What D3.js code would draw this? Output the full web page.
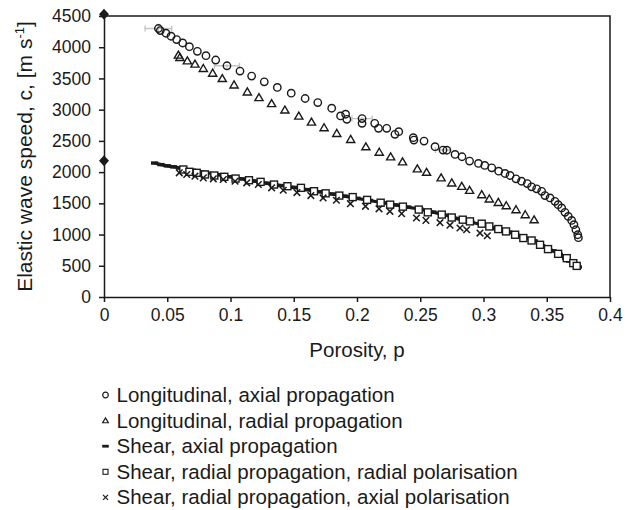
<!DOCTYPE html>
<html>
<head>
<meta charset="utf-8">
<script src="https://cdn.jsdelivr.net/npm/d3@7"></script>
<style>
  body { margin: 0; background: #fff; }
  text { font-family: "Liberation Sans", Arial, Helvetica, sans-serif; fill: #1a1a1a; }
  .axis path, .axis line { stroke: #1a1a1a; stroke-width: 1.5; }
</style>
</head>
<body>
<div id="chart"></div>
<script>
// values: [porosity, speed]
const longitudinalAxial = [
  [0.043, 4300], [0.0445, 4266], [0.049, 4224], [0.053, 4176], [0.0574, 4122], [0.0622, 4068],
  [0.0675, 4009], [0.0738, 3935], [0.0806, 3864], [0.0883, 3795], [0.0972, 3703], [0.1075, 3618],
  [0.1167, 3538], [0.1267, 3446], [0.137, 3356], [0.148, 3264], [0.159, 3179], [0.169, 3114],
  [0.18, 3023], [0.187, 2899], [0.191, 2927], [0.192, 2846], [0.204, 2857], [0.204, 2782],
  [0.214, 2782], [0.217, 2701], [0.2235, 2701], [0.23, 2605], [0.233, 2648], [0.2445, 2552],
  [0.245, 2513], [0.253, 2497], [0.2617, 2407], [0.268, 2353], [0.271, 2350], [0.2775, 2283],
  [0.283, 2246], [0.289, 2176], [0.296, 2139], [0.301, 2107], [0.3065, 2069], [0.312, 2015],
  [0.317, 1978], [0.321, 1946], [0.3257, 1892], [0.33, 1854], [0.3346, 1817], [0.338, 1764],
  [0.342, 1732], [0.346, 1693], [0.3486, 1624], [0.3526, 1587], [0.3565, 1532], [0.359, 1479],
  [0.3618, 1426], [0.3644, 1356], [0.367, 1291], [0.3697, 1227], [0.3715, 1158], [0.373, 1077],
  [0.3745, 997], [0.375, 950]
]

const longitudinalRadial = [
  [0.0588, 3875], [0.06, 3838], [0.0659, 3784], [0.0719, 3731], [0.0785, 3661], [0.0859, 3586],
  [0.0935, 3500], [0.1028, 3398], [0.1133, 3285], [0.1225, 3195], [0.1325, 3099], [0.143, 2996],
  [0.154, 2899], [0.164, 2803], [0.174, 2712], [0.184, 2621], [0.195, 2525], [0.207, 2407],
  [0.2176, 2320], [0.2266, 2246], [0.236, 2166], [0.2477, 2053], [0.255, 1999], [0.2665, 1909],
  [0.2749, 1828], [0.2828, 1774], [0.289, 1709], [0.2986, 1640], [0.3046, 1571], [0.3117, 1516],
  [0.318, 1463], [0.3257, 1399], [0.333, 1319], [0.34, 1238]
]

const shearAxial = [
  [0.04, 2145], [0.045, 2120], [0.05, 2100], [0.055, 2085], [0.06, 2065], [0.07, 2030],
  [0.08, 1995], [0.09, 1960], [0.1, 1925], [0.11, 1890], [0.12, 1855], [0.13, 1820],
  [0.14, 1785], [0.15, 1755], [0.16, 1720], [0.17, 1685], [0.18, 1650], [0.19, 1615],
  [0.2, 1580], [0.21, 1545], [0.22, 1510], [0.23, 1475], [0.24, 1440], [0.25, 1405],
  [0.26, 1360], [0.27, 1310], [0.28, 1255], [0.29, 1200], [0.3, 1150], [0.31, 1095],
  [0.32, 1040], [0.33, 975], [0.34, 900], [0.345, 855], [0.35, 800], [0.355, 740],
  [0.36, 680], [0.365, 620], [0.368, 575], [0.371, 535], [0.373, 505], [0.375, 480]
]

const shearRadialRadial = [
  [0.0627, 2042], [0.0675, 2005], [0.0733, 1989], [0.0798, 1962], [0.0872, 1946], [0.0951, 1925],
  [0.104, 1897], [0.1146, 1870], [0.1238, 1844], [0.1344, 1801], [0.145, 1774], [0.1557, 1748],
  [0.166, 1694], [0.1752, 1660], [0.186, 1624], [0.1966, 1600], [0.208, 1555], [0.2187, 1510],
  [0.2262, 1479], [0.2363, 1447], [0.2488, 1400], [0.256, 1356], [0.267, 1320], [0.2749, 1273],
  [0.2836, 1238], [0.2893, 1211], [0.2986, 1174], [0.3046, 1130], [0.3117, 1088], [0.3178, 1050],
  [0.325, 997], [0.3315, 944], [0.338, 905], [0.3447, 836], [0.351, 767], [0.359, 691],
  [0.3658, 622], [0.371, 542], [0.3737, 498]
]

const shearRadialAxial = [
  [0.0595, 1989], [0.0654, 1962], [0.0719, 1935], [0.0785, 1908], [0.0864, 1892], [0.0943, 1881],
  [0.1036, 1854], [0.1128, 1828], [0.122, 1801], [0.1325, 1748], [0.1417, 1709], [0.1525, 1672],
  [0.1635, 1624], [0.1732, 1587], [0.1837, 1549], [0.1948, 1495], [0.2067, 1452], [0.2174, 1412],
  [0.226, 1372], [0.2353, 1335], [0.247, 1265], [0.2545, 1227], [0.2656, 1190], [0.2735, 1150],
  [0.2814, 1105], [0.2867, 1077], [0.2972, 1024], [0.303, 981]
]

// solid reference values at zero porosity
const zeroPorosity = [[0, 4530], [0, 2180]]

// [porosity, speed, porosity error, speed error]
const errorBars = [
  [0.043, 4300, 0.0105, 80], [0.0972, 3703, 0.0099, 30], [0.204, 2857, 0.008, 25], [0.268, 2353, 0.006, 20]
]

const xTicks = [0, 0.05, 0.1, 0.15, 0.2, 0.25, 0.3, 0.35, 0.4]
const yTicks = [0, 500, 1000, 1500, 2000, 2500, 3000, 3500, 4000, 4500]

const legendLabels = [
  'Longitudinal, axial propagation',
  'Longitudinal, radial propagation',
  'Shear, axial propagation',
  'Shear, radial propagation, radial polarisation',
  'Shear, radial propagation, axial polarisation'
]

const width = 634
const height = 510
const ink = '#1a1a1a'

const svg = d3.select('#chart')
  .append('svg')
  .attr('width', width)
  .attr('height', height)

const x = d3.scaleLinear().domain([0, 0.4]).range([104, 610])
const y = d3.scaleLinear().domain([0, 4500]).range([297, 16])

// marker shapes, centred on 0,0
const markers = {
  circle: (g, s, w) => g.append('circle').attr('r', s).attr('fill', 'none').attr('stroke', ink).attr('stroke-width', w),
  triangle: (g, s, w) => g.append('path')
    .attr('d', `M0,${-s}L${s * 1.05},${s * 0.8}L${-s * 1.05},${s * 0.8}Z`)
    .attr('fill', 'none').attr('stroke', ink).attr('stroke-width', w),
  dash: (g, s, w) => g.append('rect').attr('x', -s).attr('y', -w / 2).attr('width', 2 * s).attr('height', w).attr('fill', ink),
  square: (g, s, w) => g.append('rect').attr('x', -s).attr('y', -s).attr('width', 2 * s).attr('height', 2 * s)
    .attr('fill', '#fff').attr('stroke', ink).attr('stroke-width', w),
  cross: (g, s, w) => g.append('path').attr('d', `M${-s},${-s}L${s},${s}M${-s},${s}L${s},${-s}`)
    .attr('stroke', ink).attr('stroke-width', w)
}

const drawSeries = (data, shape, size, w) => {
  const g = svg.append('g')
  data.forEach((d) => {
    const m = g.append('g').attr('transform', `translate(${x(d[0])},${y(d[1])})`)
    markers[shape](m, size, w)
  })
}

// axes
const axisX = d3.axisBottom(x).tickValues(xTicks).tickFormat(d3.format('~g')).tickSize(5).tickSizeOuter(0).tickPadding(7)
const axisY = d3.axisLeft(y).tickValues(yTicks).tickFormat(d3.format('d')).tickSize(5).tickSizeOuter(0).tickPadding(8)

svg.append('g')
  .attr('class', 'axis x')
  .attr('transform', `translate(0, ${y(0)})`)
  .call(axisX)
  .call((g) => g.selectAll('text').style('font-size', '17.5px').attr('fill', ink))

svg.append('g')
  .attr('class', 'axis y')
  .attr('transform', `translate(${x(0)}, 0)`)
  .call(axisY)
  .call((g) => g.selectAll('text').style('font-size', '17.5px').attr('fill', ink))

// frame top and right
svg.append('path')
  .attr('d', `M${x(0)},${y(4500)}H${x(0.4)}V${y(0)}`)
  .attr('fill', 'none')
  .attr('stroke', ink)
  .attr('stroke-width', 1.5)

// error bars
const eb = svg.append('g').attr('stroke', '#c4c4c4').attr('stroke-width', 1.4).attr('fill', 'none')
errorBars.forEach((d) => {
  const [p, c, dp, dc] = d
  eb.append('path').attr('d',
    `M${x(p - dp)},${y(c)}H${x(p + dp)}` +
    `M${x(p - dp)},${y(c) - 3}V${y(c) + 3}M${x(p + dp)},${y(c) - 3}V${y(c) + 3}` +
    `M${x(p)},${y(c + dc)}V${y(c - dc)}`)
})

drawSeries(longitudinalAxial, 'circle', 3.7, 1.4)
drawSeries(longitudinalRadial, 'triangle', 3.9, 1.4)

svg.append('path')
  .attr('d', d3.line().x((d) => x(d[0])).y((d) => y(d[1]))(shearAxial))
  .attr('fill', 'none')
  .attr('stroke', ink)
  .attr('stroke-width', 3.2)
drawSeries(shearAxial, 'dash', 3.6, 3.4)

drawSeries(shearRadialRadial, 'square', 3.5, 1.4)
drawSeries(shearRadialAxial, 'cross', 3.3, 1.5)

// diamonds at zero porosity
svg.append('g')
  .selectAll('path')
  .data(zeroPorosity)
  .join('path')
  .attr('transform', (d) => `translate(${x(d[0])},${y(d[1])})`)
  .attr('d', 'M0,-5.5L5,0L0,5.5L-5,0Z')
  .attr('fill', ink)

// axis titles
svg.append('text')
  .attr('x', (x(0) + x(0.4)) / 2)
  .attr('y', 357)
  .attr('text-anchor', 'middle')
  .style('font-size', '20.5px')
  .text('Porosity, p')

const yTitle = svg.append('text')
  .attr('transform', `translate(32, ${(y(0) + y(4500)) / 2}) rotate(-90)`)
  .attr('text-anchor', 'middle')
  .style('font-size', '21px')
yTitle.append('tspan').text('Elastic wave speed, c, [m s')
yTitle.append('tspan').attr('dy', -8).style('font-size', '13px').text('-1')
yTitle.append('tspan').attr('dy', 8).text(']')

// legend
const legendShapes = [['circle', 2.8, 1.2], ['triangle', 2.7, 1.2], ['dash', 3.3, 2.8], ['square', 2.5, 1.1], ['cross', 2.5, 1.2]]
const legend = svg.append('g')
legendLabels.forEach((label, i) => {
  const cy = 395 + i * 25.6
  const m = legend.append('g').attr('transform', `translate(105.5, ${cy})`)
  const [shape, size, w] = legendShapes[i]
  markers[shape](m, size, w)
  legend.append('text')
    .attr('x', 116.5)
    .attr('y', cy + 7)
    .style('font-size', '20.5px')
    .text(label)
})
</script>
</body>
</html>
